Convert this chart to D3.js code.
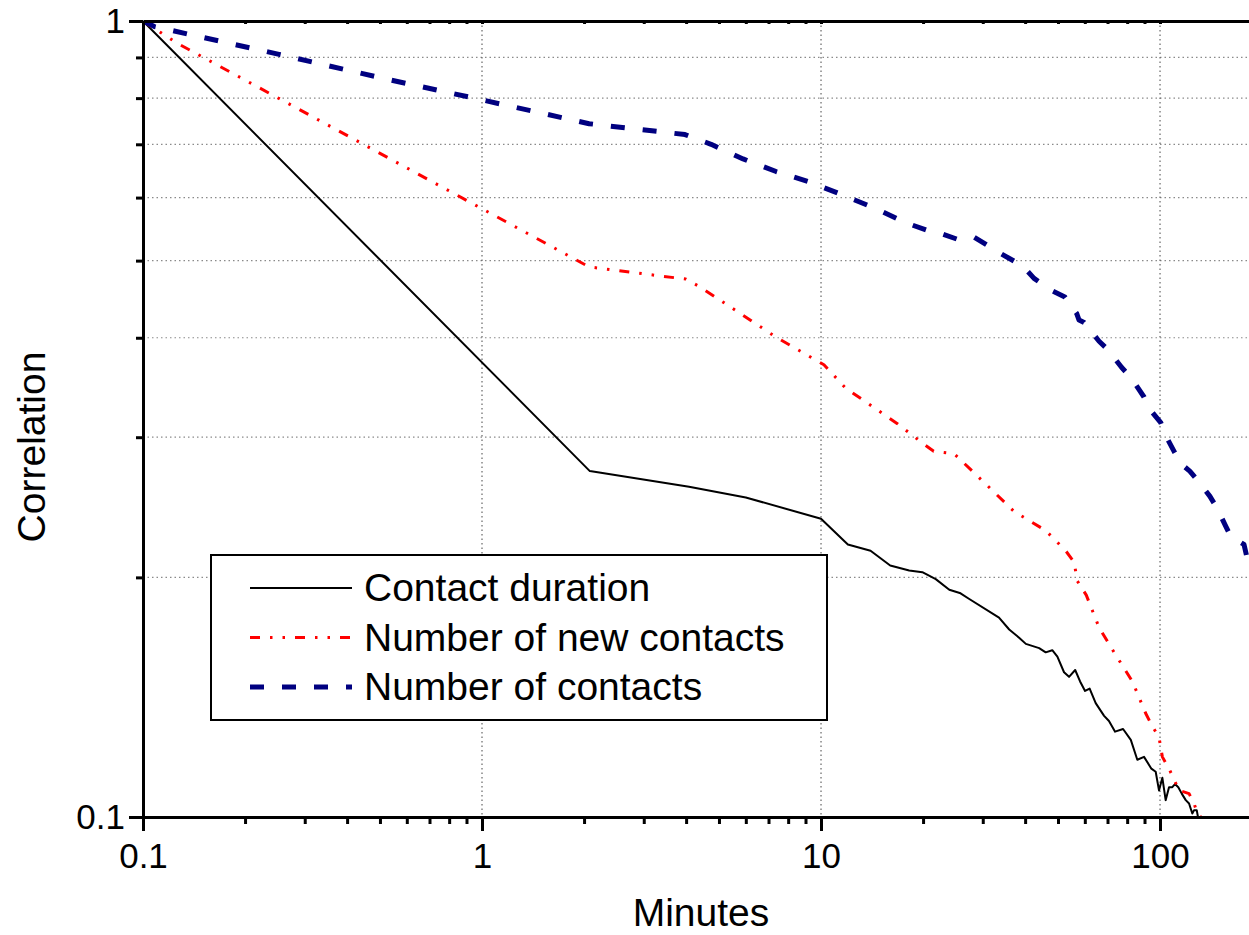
<!DOCTYPE html>
<html>
<head>
<meta charset="utf-8">
<script src="https://cdn.jsdelivr.net/npm/d3@7"></script>
<style>
  body { margin: 0; background: #fff; }
  text { font-family: "Liberation Sans", Arial, sans-serif; }
</style>
</head>
<body>
<div id="chart"></div>
<script>
// Contact duration (black solid)
const durationX = [0.1, 2.08, 4.08, 6.0, 10.0, 12.0, 14.0, 16.0, 18.2, 19.9, 21.8, 23.9, 25.8, 27.3, 33.5, 35.9, 38.4, 40.2, 44.0, 46.0, 48.1, 49.8, 52.1, 53.9, 56.2, 58.1, 60.1, 62.0, 64.6, 68.4, 70.7, 73.7, 77.8, 82.0, 85.7, 89.7, 94.3, 97.1, 99.3, 101.6, 103.9, 106.3, 108.7, 110.7, 113.2, 115.9, 119.1, 121.8, 124.5, 126.0, 128.3, 129.4, 131];
const durationY = [1.0, 0.272, 0.260, 0.252, 0.237, 0.220, 0.216, 0.207, 0.204, 0.203, 0.199, 0.193, 0.191, 0.188, 0.178, 0.172, 0.168, 0.165, 0.163, 0.161, 0.162, 0.159, 0.152, 0.150, 0.153, 0.148, 0.144, 0.145, 0.139, 0.134, 0.132, 0.128, 0.129, 0.125, 0.118, 0.119, 0.115, 0.114, 0.108, 0.112, 0.105, 0.109, 0.109, 0.110, 0.109, 0.107, 0.105, 0.104, 0.101, 0.102, 0.102, 0.100, 0.097];

// Number of new contacts (red dash-dot-dot)
const newContactsX = [0.1, 0.126, 2.07, 3.40, 3.99, 4.37, 5.60, 7.35, 10.2, 11.8, 16.8, 19.9, 21.5, 24.7, 30.9, 37.1, 46.0, 52.7, 55.8, 57.0, 60.6, 66.1, 73.2, 82.9, 90.7, 94.9, 99.3, 101.6, 106.3, 113.8, 121.8, 126.0, 128.9, 131.9];
const newContactsY = [1.0, 0.938, 0.491, 0.478, 0.474, 0.464, 0.433, 0.401, 0.370, 0.346, 0.312, 0.295, 0.288, 0.286, 0.261, 0.242, 0.229, 0.216, 0.209, 0.198, 0.190, 0.173, 0.161, 0.148, 0.135, 0.130, 0.126, 0.119, 0.115, 0.108, 0.107, 0.104, 0.101, 0.100];

// Number of contacts (navy dashed)
const contactsX = [0.1, 0.108, 0.252, 0.512, 1.0, 2.07, 3.97, 4.74, 5.89, 7.37, 9.22, 11.53, 14.38, 17.97, 20.5, 22.5, 25.2, 28.3, 34.0, 39.4, 42.5, 48.1, 52.4, 56.8, 57.7, 59.7, 66.1, 70.4, 77.1, 82.3, 89.7, 92.8, 100.5, 103.2, 110.0, 115.1, 122.4, 128.8, 140.2, 147.6, 156.2, 161.7, 176.9, 181.8, 190];
const contactsY = [1.0, 0.984, 0.908, 0.847, 0.796, 0.743, 0.720, 0.700, 0.671, 0.647, 0.628, 0.605, 0.582, 0.557, 0.546, 0.541, 0.532, 0.535, 0.510, 0.492, 0.475, 0.458, 0.450, 0.429, 0.421, 0.418, 0.396, 0.386, 0.367, 0.356, 0.337, 0.326, 0.313, 0.303, 0.288, 0.278, 0.272, 0.265, 0.253, 0.244, 0.232, 0.225, 0.220, 0.209, 0.200];

const seriesNames = ["Contact duration", "Number of new contacts", "Number of contacts"];

// Tick labels
const xMajor = [0.1, 1, 10, 100];
const xMajorLabels = ["0.1", "1", "10", "100"];
const yMajor = [0.1, 1];
const yMajorLabels = ["0.1", "1"];

const width = 1249, height = 935;
const plot = { left: 143, right: 1249, top: 21, bottom: 817 };

const svg = d3.select("#chart").append("svg")
    .attr("width", width)
    .attr("height", height);

const x = d3.scaleLog().domain([0.1, 183]).range([plot.left, plot.right]);
const y = d3.scaleLog().domain([0.1, 1]).range([plot.bottom, plot.top]);

const isMajor = d => Math.abs(Math.log10(d) - Math.round(Math.log10(d))) < 1e-9;
const xMinor = x.ticks().filter(d => !isMajor(d));
const yMinor = y.ticks().filter(d => !isMajor(d));

// grid
svg.append("g").selectAll("line")
    .data(yMinor)
    .join("line")
    .attr("x1", plot.left).attr("x2", plot.right)
    .attr("y1", d => y(d)).attr("y2", d => y(d))
    .style("stroke", "#8a8a8a")
    .style("stroke-width", 1.2)
    .style("stroke-dasharray", "1.5,3");

svg.append("g").selectAll("line")
    .data(xMajor.filter(d => d > 0.1))
    .join("line")
    .attr("x1", d => x(d)).attr("x2", d => x(d))
    .attr("y1", plot.top).attr("y2", plot.bottom)
    .style("stroke", "#666")
    .style("stroke-width", 1.2)
    .style("stroke-dasharray", "1.5,3");

// series
svg.append("clipPath").attr("id", "clip")
    .append("rect")
    .attr("x", plot.left).attr("y", plot.top)
    .attr("width", plot.right - plot.left)
    .attr("height", plot.bottom - plot.top);

const line = d3.line().x(d => x(d[0])).y(d => y(d[1]));

const series = [
    { name: seriesNames[0], data: d3.zip(durationX, durationY), color: "#000", width: 2, dash: null },
    { name: seriesNames[1], data: d3.zip(newContactsX, newContactsY), color: "#ff0000", width: 3, dash: "10,10,2.5,10,2.5,10" },
    { name: seriesNames[2], data: d3.zip(contactsX, contactsY), color: "#000080", width: 5, dash: "14,18" }
];

svg.append("g").attr("clip-path", "url(#clip)")
    .selectAll("path")
    .data(series)
    .join("path")
    .attr("d", d => line(d.data))
    .style("fill", "none")
    .style("stroke", d => d.color)
    .style("stroke-width", d => d.width)
    .style("stroke-dasharray", d => d.dash)
    .style("stroke-linejoin", "round");

// legend
const legend = svg.append("g");
legend.append("rect")
    .attr("x", 211).attr("y", 555)
    .attr("width", 616).attr("height", 165)
    .style("fill", "#fff")
    .style("stroke", "#000")
    .style("stroke-width", 2);

const rows = legend.selectAll(".row")
    .data(series)
    .join("g")
    .attr("class", "row")
    .attr("transform", (d, i) => `translate(0,${588 + i * 49.5})`);

rows.append("line")
    .attr("x1", 250).attr("x2", 352)
    .style("stroke", d => d.color)
    .style("stroke-width", d => d.width === 2 ? 2 : d.width)
    .style("stroke-dasharray", d => d.dash);

rows.append("text")
    .attr("x", 364)
    .attr("y", 13)
    .style("font-size", "39px")
    .text(d => d.name);

// axes
const styleAxis = g => {
    g.selectAll("line").style("stroke", "#000").style("stroke-width", 3);
    g.selectAll("path").style("stroke", "#000").style("stroke-width", 3);
    g.selectAll("text")
        .style("font-family", "'Liberation Sans', Arial, sans-serif")
        .style("font-size", "35px")
        .style("fill", "#000");
};

svg.append("g")
    .attr("transform", `translate(0,${plot.bottom})`)
    .call(d3.axisBottom(x).tickValues(xMinor).tickSize(7).tickSizeOuter(0).tickFormat(""))
    .call(styleAxis);

svg.append("g")
    .attr("transform", `translate(0,${plot.bottom})`)
    .call(d3.axisBottom(x).tickValues(xMajor).tickSize(14).tickSizeOuter(0).tickPadding(12)
        .tickFormat((d, i) => xMajorLabels[i]))
    .call(styleAxis);

svg.append("g")
    .attr("transform", `translate(0,${plot.top})`)
    .call(d3.axisBottom(x).tickValues(xMinor.concat(xMajor)).tickSize(3).tickSizeOuter(0).tickFormat(""))
    .call(styleAxis);

svg.append("g")
    .attr("transform", `translate(${plot.left},0)`)
    .call(d3.axisLeft(y).tickValues(yMinor).tickSize(7).tickSizeOuter(0).tickFormat(""))
    .call(styleAxis);

svg.append("g")
    .attr("transform", `translate(${plot.left},0)`)
    .call(d3.axisLeft(y).tickValues(yMajor).tickSize(14).tickSizeOuter(0).tickPadding(4)
        .tickFormat((d, i) => yMajorLabels[i]))
    .call(styleAxis);

// axis titles
svg.append("text")
    .attr("x", 701)
    .attr("y", 926)
    .attr("text-anchor", "middle")
    .style("font-size", "39px")
    .text("Minutes");

svg.append("text")
    .attr("transform", "translate(45,447) rotate(-90)")
    .attr("text-anchor", "middle")
    .style("font-size", "39px")
    .text("Correlation");
</script>
</body>
</html>
